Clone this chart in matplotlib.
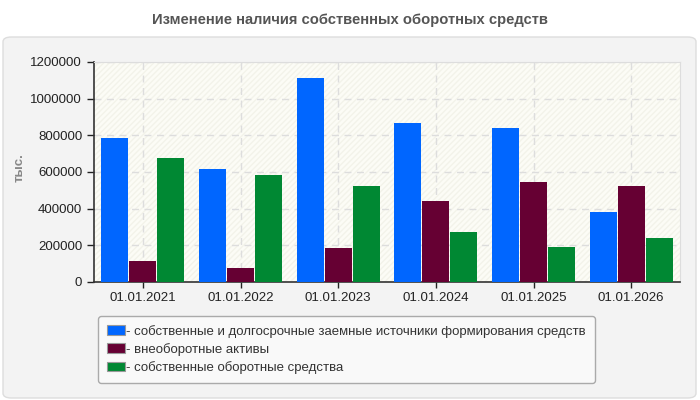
import numpy as np
import matplotlib.pyplot as plt
from matplotlib.patches import FancyBboxPatch, Rectangle, Patch

plt.rcParams['font.family'] = ['Liberation Sans', 'DejaVu Sans']

# data
dates = ['01.01.2021', '01.01.2022', '01.01.2023', '01.01.2024', '01.01.2025', '01.01.2026']
sources = [783000, 614000, 1111000, 865000, 838000, 384000]
noncurrent = [113000, 78000, 188000, 444000, 543000, 521000]
own_working = [679000, 586000, 526000, 275000, 193000, 242000]

labels = ['- собственные и долгосрочные заемные источники формирования средств',
          '- внеоборотные активы',
          '- собственные оборотные средства']
colors = ['#0066ff', '#660033', '#008833']

fig = plt.figure(figsize=(7, 4), dpi=100)
fig.patch.set_facecolor('white')

# grey rounded panel behind chart
panel = FancyBboxPatch((3 / 700, 2 / 400), 693 / 700, 361 / 400,
                       boxstyle='round,pad=0,rounding_size=0.012',
                       transform=fig.transFigure, facecolor='#f3f3f3',
                       edgecolor='#dddddd', linewidth=1, zorder=-5)
fig.patches.append(panel)

fig.text(0.5, 1 - 20 / 400, 'Изменение наличия собственных оборотных средств',
         ha='center', va='center', fontsize=10.6, fontweight='bold', color='#555555')

ax = fig.add_axes([94 / 700, 1 - 282 / 400, 586 / 700, 220 / 400])
ax.set_facecolor('#fcfcf6')
ax.add_patch(Rectangle((0, 0), 1, 1, transform=ax.transAxes, facecolor='none',
                       edgecolor='#f3f3ea', hatch='//////', linewidth=0, zorder=0))

x = np.arange(len(dates))
step = 0.287
w = 0.275
for i, (vals, c) in enumerate(zip([sources, noncurrent, own_working], colors)):
    ax.bar(x + (i - 1) * step, vals, width=w, color=c, zorder=3, label=labels[i])

ax.set_xlim(-0.5, len(dates) - 0.5)
ax.set_ylim(0, 1200000)
ax.set_yticks(np.arange(0, 1200001, 200000))
ax.set_yticklabels([str(v) for v in range(0, 1200001, 200000)])
ax.set_xticks(x)
ax.set_xticklabels(dates)
ax.tick_params(labelsize=9.5, colors='#222222', length=5, width=1)
ax.tick_params(axis='x', direction='out', length=4, pad=3)
ax.tick_params(axis='y', direction='out', length=5)

ax.grid(True, color='#dddddd', linestyle=(0, (5, 4)), linewidth=1, zorder=1)
for s in ['top', 'right']:
    ax.spines[s].set_color('#dddddd')
for s in ['left', 'bottom']:
    ax.spines[s].set_color('#333333')
    ax.spines[s].set_linewidth(1.2)

fig.text(20 / 700, 1 - 168 / 400, 'тыс.', rotation=90, ha='center', va='center',
         fontsize=9.5, fontweight='bold', color='#888888')

handles = [Patch(facecolor=c, edgecolor='#999999', linewidth=0.8) for c in colors]
leg = fig.legend(handles, labels, loc='upper left',
                 bbox_to_anchor=(98 / 700, 1 - 316 / 400), fontsize=9.5,
                 frameon=True, fancybox=True, handlelength=1.4, handleheight=0.75,
                 handletextpad=0.1, labelspacing=0.4, borderpad=0.65,
                 borderaxespad=0)
leg.get_frame().set_facecolor('#f9f9f9')
leg.get_frame().set_edgecolor('#aaaaaa')
leg.get_frame().set_alpha(1)
for t in leg.get_texts():
    t.set_color('#333333')

fig.savefig('out.png', dpi=100)
